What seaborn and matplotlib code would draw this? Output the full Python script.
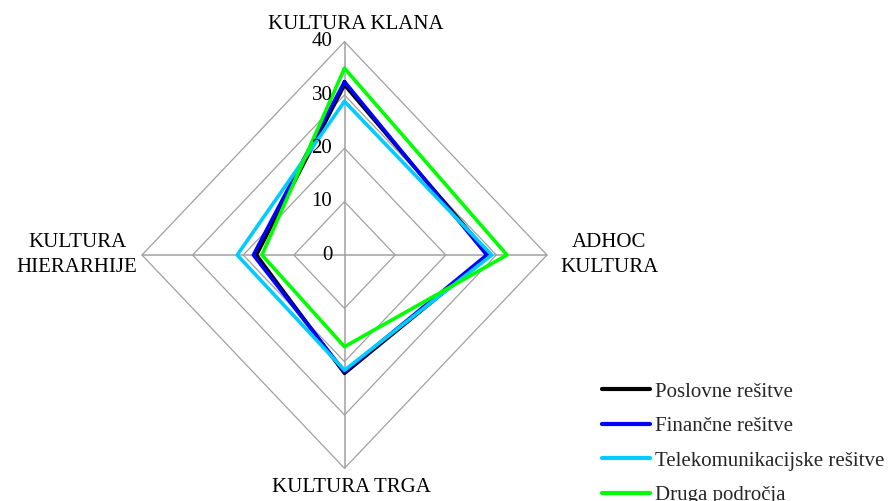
import numpy as np
import pandas as pd
import matplotlib
matplotlib.use("Agg")
import matplotlib.pyplot as plt
import seaborn as sns
from matplotlib.lines import Line2D

# Dimensions (clockwise from top) and scores per group
dimensions = ["KULTURA KLANA", "ADHOC\nKULTURA", "KULTURA TRGA", "KULTURA\nHIERARHIJE"]
series_names = ["Poslovne rešitve", "Finančne rešitve",
                "Telekomunikacijske rešitve", "Druga področja"]
poslovne = [31.9, 28.6, 22.2, 17.4]
financne = [32.5, 28.1, 21.9, 18.0]
telekom = [28.8, 29.1, 21.6, 21.2]
druga = [35.0, 32.1, 17.2, 16.3]
ring_values = [0, 10, 20, 30, 40]
ring_labels = ["0", "10", "20", "30", "40"]

colors = ["#000000", "#0000ff", "#00ccff", "#00ff00"]

sns.set_theme(style="white")
plt.rcParams["font.family"] = ["Liberation Serif", "DejaVu Serif"]

angles = np.linspace(0, 2 * np.pi, len(dimensions), endpoint=False)
rmax = ring_values[-1]


def to_xy(values):
    vals = np.asarray(values, dtype=float)
    x = vals * np.sin(angles)
    y = vals * np.cos(angles)
    return np.append(x, x[0]), np.append(y, y[0])


rows = []
for name, vals in zip(series_names, [poslovne, financne, telekom, druga]):
    xs, ys = to_xy(vals)
    for i, (xv, yv) in enumerate(zip(xs, ys)):
        rows.append({"series": name, "order": i, "x": xv, "y": yv})
df = pd.DataFrame(rows)

fig = plt.figure(figsize=(8.92, 5.01), dpi=100)
ax = fig.add_axes([0, 0, 1, 1])

# Diamond grid and spokes
grid_color = "#a0a0a0"
for r in ring_values[1:]:
    gx, gy = to_xy([r] * len(dimensions))
    ax.plot(gx, gy, color=grid_color, lw=0.9, zorder=1)
for a in angles:
    ax.plot([0, rmax * np.sin(a)], [0, rmax * np.cos(a)], color=grid_color, lw=1.1, zorder=1)

sns.lineplot(data=df, x="x", y="y", hue="series", hue_order=series_names,
             palette=colors, sort=False, estimator=None, units="series",
             lw=2.6, ax=ax, legend=False, zorder=3)

fs = 15

# Radial tick labels along the top spoke
for v, lab in zip(ring_values, ring_labels):
    ax.text(-2.4, v, lab, ha="right", va="center", fontsize=fs, color="black", zorder=4)

# Dimension labels
label_pos = [(2.2, 43.3), (52.3, 0.0), (1.4, -43.6), (-52.8, 0.0)]
for (lx, ly), lab in zip(label_pos, dimensions):
    ax.text(lx, ly, lab, ha="center", va="center", fontsize=fs,
            linespacing=1.45, color="black")

handles = [Line2D([0], [0], color=c, lw=3) for c in colors]
ax.legend(handles, series_names, loc="upper left",
          bbox_to_anchor=(602 / 892, 1 - 382 / 501), frameon=False,
          fontsize=fs, handlelength=2.3, handletextpad=0.25,
          labelspacing=0.72, borderpad=0, borderaxespad=0)

px_x = 202.5 / rmax
px_y = 213.3 / rmax
cx, cy = 344.5, 255.0
ax.set_xlim(-cx / px_x, (892 - cx) / px_x)
ax.set_ylim(-(501 - cy) / px_y, cy / px_y)
ax.axis("off")

fig.savefig("out.png", dpi=100)
